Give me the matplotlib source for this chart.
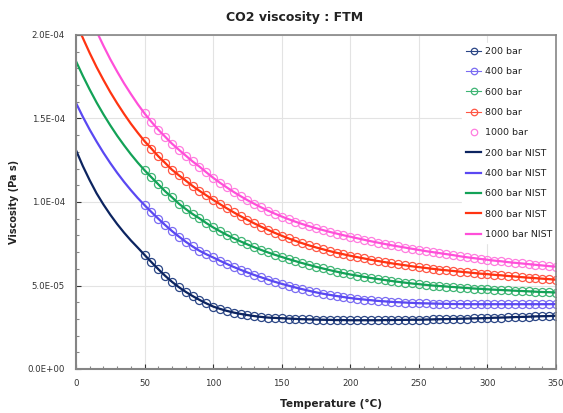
import numpy as np
import matplotlib
matplotlib.use("Agg")
import matplotlib.pyplot as plt
from matplotlib.ticker import MultipleLocator, FuncFormatter

# temperature grid (degC), viscosity values in 1e-5 Pa s
temps = np.array(range(0, 351, 5))

visc_200 = [13.1, 12.15, 11.3, 10.52, 9.85, 9.24, 8.68, 8.17, 7.7, 7.27,
            6.83, 6.4, 5.98, 5.58, 5.22, 4.9, 4.62, 4.37, 4.14, 3.93,
            3.74, 3.6, 3.48, 3.38, 3.3, 3.23, 3.17, 3.12, 3.08, 3.06,
            3.04, 3.02, 3.0, 2.98, 2.97, 2.96, 2.95, 2.94, 2.93, 2.93,
            2.92, 2.92, 2.92, 2.92, 2.92, 2.93, 2.93, 2.94, 2.94, 2.95,
            2.95, 2.96, 2.97, 2.98, 2.99, 3.0, 3.01, 3.02, 3.03, 3.04,
            3.05, 3.07, 3.08, 3.09, 3.11, 3.12, 3.13, 3.15, 3.16, 3.17,
            3.19]
visc_400 = [15.93, 15.10, 14.33, 13.62, 12.95, 12.33, 11.75, 11.21, 10.71, 10.24,
            9.81, 9.40, 9.0, 8.62, 8.26, 7.93, 7.62, 7.34, 7.08, 6.87,
            6.68, 6.48, 6.29, 6.11, 5.94, 5.78, 5.63, 5.49, 5.35, 5.22,
            5.1, 4.99, 4.88, 4.78, 4.68, 4.59, 4.51, 4.44, 4.37, 4.31,
            4.25, 4.2, 4.16, 4.12, 4.08, 4.05, 4.02, 4.0, 3.98, 3.96,
            3.94, 3.93, 3.92, 3.91, 3.90, 3.89, 3.89, 3.88, 3.88, 3.88,
            3.88, 3.88, 3.88, 3.88, 3.88, 3.88, 3.88, 3.88, 3.88, 3.88,
            3.89]
visc_600 = [18.43, 17.55, 16.73, 15.96, 15.25, 14.59, 13.97, 13.40, 12.86, 12.36,
            11.9, 11.48, 11.06, 10.64, 10.28, 9.9, 9.58, 9.28, 9.02, 8.74,
            8.48, 8.25, 8.03, 7.83, 7.64, 7.46, 7.29, 7.13, 6.98, 6.84,
            6.71, 6.58, 6.46, 6.34, 6.23, 6.12, 6.02, 5.92, 5.83, 5.74,
            5.66, 5.59, 5.52, 5.45, 5.39, 5.33, 5.27, 5.22, 5.17, 5.12,
            5.08, 5.04, 5.0, 4.97, 4.94, 4.91, 4.88, 4.85, 4.82, 4.80,
            4.77, 4.75, 4.73, 4.71, 4.69, 4.67, 4.65, 4.63, 4.61, 4.6,
            4.58]
visc_800 = [20.78, 19.82, 18.92, 18.08, 17.31, 16.58, 15.91, 15.28, 14.69, 14.15,
            13.64, 13.2, 12.74, 12.34, 11.93, 11.6, 11.28, 10.96, 10.67, 10.4,
            10.13, 9.87, 9.62, 9.38, 9.15, 8.93, 8.72, 8.52, 8.33, 8.15,
            7.98, 7.82, 7.67, 7.53, 7.4, 7.28, 7.17, 7.06, 6.96, 6.87,
            6.78, 6.7, 6.62, 6.54, 6.47, 6.4, 6.33, 6.27, 6.21, 6.15,
            6.1, 6.05, 6.0, 5.95, 5.91, 5.87, 5.83, 5.79, 5.75, 5.71,
            5.68, 5.64, 5.61, 5.57, 5.54, 5.5, 5.47, 5.44, 5.41, 5.38,
            5.35]
visc_1000 = [23.2, 22.13, 21.14, 20.22, 19.36, 18.55, 17.81, 17.11, 16.47, 15.86,
             15.3, 14.8, 14.33, 13.91, 13.49, 13.13, 12.78, 12.43, 12.12, 11.78,
             11.45, 11.15, 10.87, 10.6, 10.35, 10.11, 9.89, 9.68, 9.48, 9.3,
             9.13, 8.97, 8.82, 8.68, 8.55, 8.43, 8.32, 8.21, 8.11, 8.01,
             7.92, 7.83, 7.74, 7.65, 7.57, 7.49, 7.41, 7.34, 7.27, 7.2,
             7.13, 7.06, 7.0, 6.94, 6.88, 6.82, 6.75, 6.69, 6.64, 6.59,
             6.54, 6.49, 6.45, 6.4, 6.36, 6.32, 6.28, 6.24, 6.2, 6.16,
             6.13]

pressures = ["200 bar", "400 bar", "600 bar", "800 bar", "1000 bar"]
series = [visc_200, visc_400, visc_600, visc_800, visc_1000]
model_colors = ["#2a4585", "#7a6cf2", "#3fb574", "#ff5644", "#ff7ddf"]
nist_colors = ["#0c2460", "#5a48f2", "#13a257", "#ff3412", "#ff4fd9"]

plt.rcParams["font.family"] = "DejaVu Sans"

fig = plt.figure(figsize=(5.63, 4.13), dpi=100)
ax = fig.add_axes([76 / 563, 1 - 369 / 413, 480 / 563, 334 / 413])

model_mask = temps >= 50
handles_model = []
handles_nist = []
for name, vals, mc in zip(pressures, series, model_colors):
    v = np.array(vals) * 1e-5
    ls = "none" if name == "1000 bar" else "-"
    h, = ax.plot(temps[model_mask], v[model_mask], linestyle=ls, lw=0.8,
                 color=mc, marker="o", ms=5.8, mfc="none", mec=mc, mew=0.9,
                 label=name, zorder=2)
    handles_model.append(h)
for name, vals, nc in zip(pressures, series, nist_colors):
    v = np.array(vals) * 1e-5
    h, = ax.plot(temps, v, color=nc, lw=1.6, label=name + " NIST", zorder=3)
    handles_nist.append(h)

ax.set_xlim(0, 350)
ax.set_ylim(0, 2.0e-4)
ax.xaxis.set_major_locator(MultipleLocator(50))
ax.xaxis.set_minor_locator(MultipleLocator(10))
ax.yaxis.set_major_locator(MultipleLocator(5e-5))
ax.yaxis.set_minor_locator(MultipleLocator(1e-5))
ax.yaxis.set_major_formatter(FuncFormatter(lambda v, p: f"{v:.1E}"))

ax.grid(True, which="major", color="#e3e3e3", lw=0.8)
ax.set_axisbelow(True)
for side in ["left", "bottom"]:
    ax.spines[side].set_color("#858585")
    ax.spines[side].set_linewidth(1.5)
for side in ["top", "right"]:
    ax.spines[side].set_color("#858585")
    ax.spines[side].set_linewidth(1.2)
for sp in ax.spines.values():
    sp.set_zorder(6)
ax.tick_params(which="both", direction="in", color="#858585", width=0.8)
ax.tick_params(which="major", length=3.5, labelsize=6.2, colors="#333333", pad=8)
ax.tick_params(which="minor", length=2.5)
ax.tick_params(axis="x", which="major", pad=7)

fig.text(295 / 563, 1 - 17 / 413, "CO2 viscosity : FTM", ha="center", va="center",
         fontsize=9, fontweight="bold", color="#222222")
fig.text(331 / 563, 1 - 404 / 413, "Temperature (\u00b0C)", ha="center", va="center",
         fontsize=7.6, fontweight="bold", color="#222222")
fig.text(14 / 563, 1 - 202 / 413, "Viscosity (Pa s)", ha="center", va="center",
         rotation=90, fontsize=7, fontweight="bold", color="#222222")

leg = ax.legend(handles=handles_model + handles_nist, loc="upper left",
                bbox_to_anchor=(0.795, 0.99), fontsize=6.8, frameon=True,
                fancybox=False, framealpha=1, facecolor="white", edgecolor="white",
                handlelength=1.6, handletextpad=0.45, labelspacing=1.2,
                borderpad=0.4, markerscale=0.8)
leg.set_zorder(5)
for t in leg.get_texts():
    t.set_color("#222222")

fig.savefig("out.png", dpi=100)
